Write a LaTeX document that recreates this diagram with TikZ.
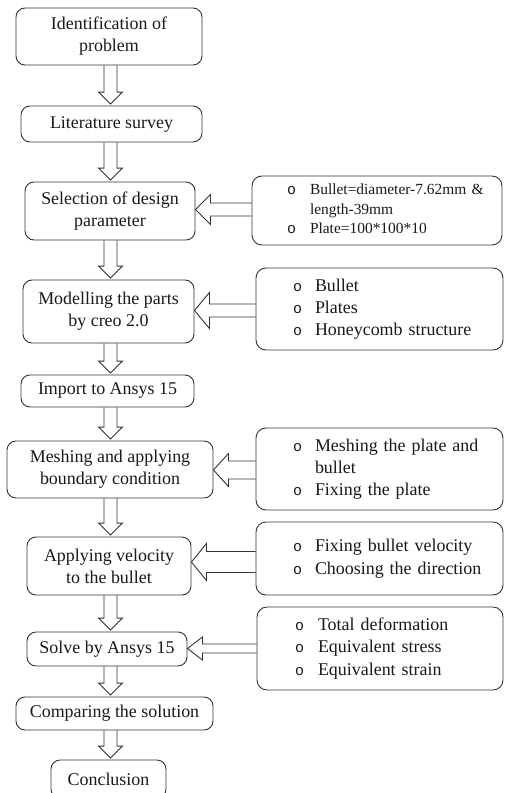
\documentclass[tikz,border=0pt]{standalone}
\usepackage{fontspec}
\setmainfont{Liberation Serif}
\newfontfamily\bulletfont{Liberation Mono}
\usetikzlibrary{calc}
\newcommand\bul{{\bulletfont\fontsize{15}{15}\selectfont o}}
\newcommand\varr[2]{%
  \draw[conn] ($(#1.south -| axis)+(-6.5,0)$) -- ($(#2.north -| axis)+(-6.5,-13.5)$)
    -- ($(#2.north -| axis)+(-12,-13.5)$) -- ($(#2.north -| axis)+(0,-1.5)$)
    -- ($(#2.north -| axis)+(12,-13.5)$) -- ($(#2.north -| axis)+(6.5,-13.5)$)
    -- ($(#1.south -| axis)+(6.5,0)$);}
% #1 right box, #2 left box, #3 dy, #4 shaft half, #5 head half
\newcommand\harr[5]{%
  \draw[conn] ($(#1.west |- #2.east)+(0,#3-#4)$) -- ($(#2.east)+(15,#3-#4)$)
    -- ($(#2.east)+(15,#3-#5)$) -- ($(#2.east)+(0,#3)$)
    -- ($(#2.east)+(15,#3+#5)$) -- ($(#2.east)+(15,#3+#4)$)
    -- ($(#1.west |- #2.east)+(0,#3+#4)$);}
\begin{document}
\begin{tikzpicture}[x=1bp,y=-1bp,
  box/.style={draw=black!80, line width=0.9bp, rounded corners=9bp, inner sep=0pt,
    align=center, text=black!90, font=\fontsize{18}{22}\selectfont},
  rbox/.style={draw=black!80, line width=0.9bp, rounded corners=10bp, inner sep=0pt,
    align=left, text=black!90, font=\fontsize{18}{22.5}\selectfont},
  conn/.style={draw=black!80, line width=0.9bp, line join=miter}]
\clip (0,0) rectangle (505,793);
\fill[white] (0,0) rectangle (505,793);
\coordinate (axis) at (110.5,0);
% left column
\node[box, minimum width=186bp, minimum height=57bp] (b1) at (109,36.5) {Identification of\\problem};
\node[box, minimum width=181bp, minimum height=36bp] (b2) at (111.5,124) {Literature survey};
\node[box, minimum width=170bp, minimum height=58bp] (b3) at (110,211) {Selection of design\\parameter};
\node[box, minimum width=171bp, minimum height=63bp] (b4) at (108.5,311.5) {Modelling the parts\\by creo 2.0};
\node[box, minimum width=173bp, minimum height=32bp] (b5) at (107.5,391) {Import to Ansys 15};
\node[box, minimum width=206bp, minimum height=57bp] (b6) at (110,469.5) {Meshing and applying\\boundary condition};
\node[box, minimum width=164bp, minimum height=58bp] (b7) at (109,566) {Applying velocity\\to the bullet};
\node[box, minimum width=160bp, minimum height=34bp] (b8) at (107,649) {Solve by Ansys 15};
\node[box, minimum width=197bp, minimum height=33bp] (b9) at (114.5,713.5) {Comparing the solution};
\node[box, minimum width=115bp, minimum height=38bp] (b10) at (108.5,779) {Conclusion};
% right column
\node[rbox, minimum width=250bp, minimum height=69bp, text width=250bp,
  font=\fontsize{15.5}{19.5}\selectfont] (r1) at (377,210.5)
  {\begin{tabular}{@{\hspace{35bp}}p{9bp}@{\hspace{14bp}}l@{}}
   \bul & Bullet=diameter-7.62mm \&\\
        & length-39mm\\
   \bul & Plate=100*100*10
   \end{tabular}};
\node[rbox, minimum width=247bp, minimum height=82bp, text width=247bp] (r2) at (379.5,309)
  {\begin{tabular}{@{\hspace{37bp}}p{10bp}@{\hspace{12bp}}l@{}}
   \bul & Bullet\\
   \bul & Plates\\
   \bul & Honeycomb structure
   \end{tabular}};
\node[rbox, minimum width=247bp, minimum height=82bp, text width=247bp] (r3) at (379.5,469)
  {\begin{tabular}{@{\hspace{37bp}}p{10bp}@{\hspace{12bp}}l@{}}
   \bul & Meshing the plate and\\
        & bullet\\
   \bul & Fixing the plate
   \end{tabular}};
\node[rbox, minimum width=247bp, minimum height=73bp, text width=247bp] (r4) at (379.5,558.5)
  {\begin{tabular}{@{\hspace{37bp}}p{10bp}@{\hspace{12bp}}l@{}}
   \bul & Fixing bullet velocity\\
   \bul & Choosing the direction
   \end{tabular}};
\node[rbox, minimum width=246bp, minimum height=83bp, text width=246bp] (r5) at (380,648.5)
  {\begin{tabular}{@{\hspace{38bp}}p{10bp}@{\hspace{13bp}}l@{}}
   \bul & Total deformation\\
   \bul & Equivalent stress\\
   \bul & Equivalent strain
   \end{tabular}};
% vertical arrows
\varr{b1}{b2}
\varr{b2}{b3}
\varr{b3}{b4}
\varr{b4}{b5}
\varr{b5}{b6}
\varr{b6}{b7}
\varr{b7}{b8}
\varr{b8}{b9}
\varr{b9}{b10}
% horizontal arrows
\harr{r1}{b3}{-1.5}{6.5}{15}
\harr{r2}{b4}{-1}{6.5}{18}
\harr{r3}{b6}{0.5}{9}{16.5}
\harr{r4}{b7}{-4}{10.5}{18.5}
\harr{r5}{b8}{-0.5}{4.5}{11.5}
\end{tikzpicture}
\end{document}
